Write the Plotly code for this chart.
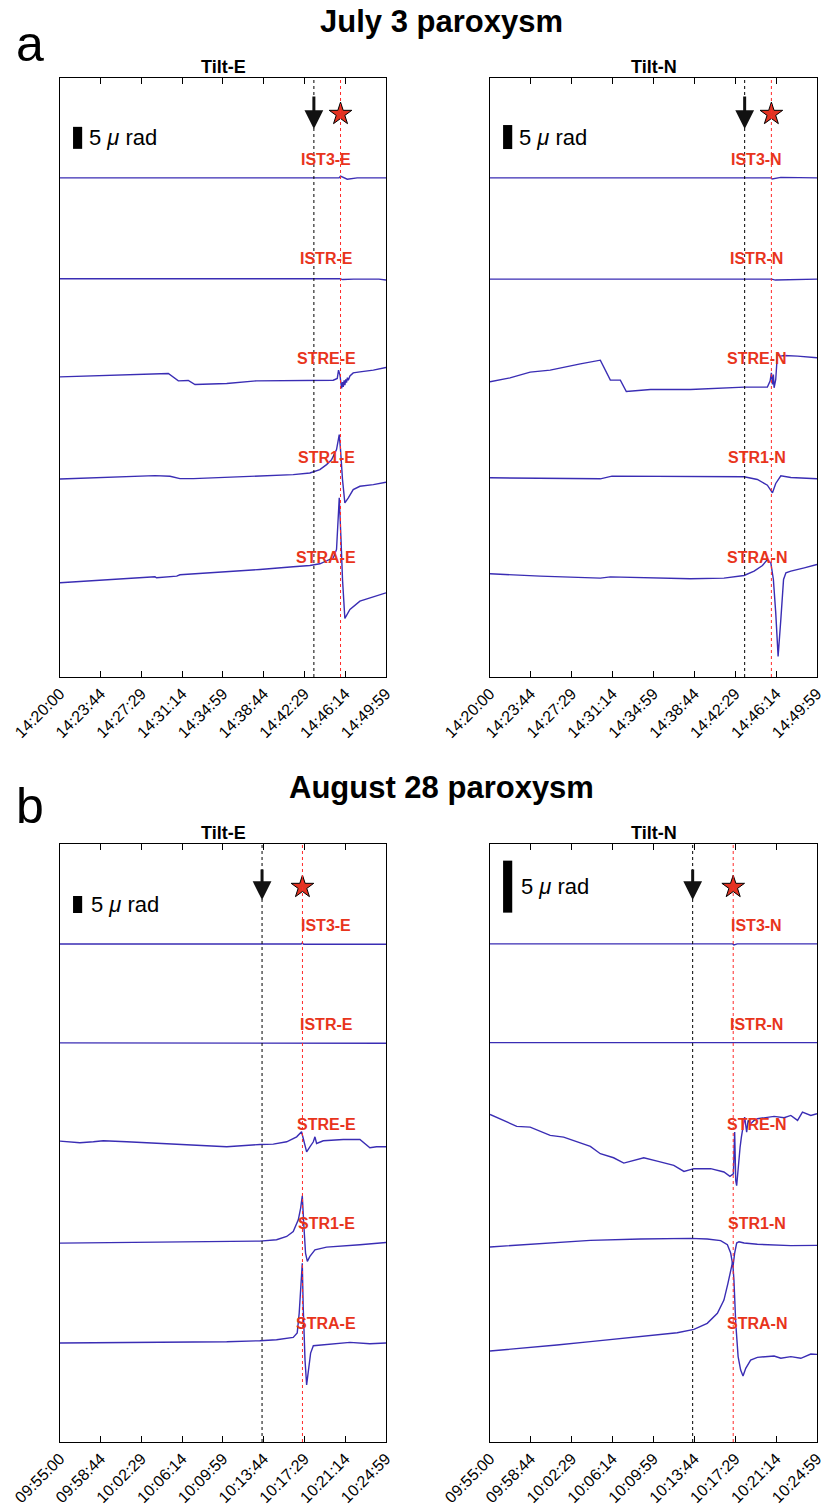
import plotly.graph_objects as go

# ---------------- data (time in seconds from window start, tilt in micro-rad) ----------------
TICK_SEC = [0, 224, 449, 674, 899, 1124, 1349, 1574, 1799]
A_TICKS = ["14:20:00", "14:23:44", "14:27:29", "14:31:14", "14:34:59",
           "14:38:44", "14:42:29", "14:46:14", "14:49:59"]
B_TICKS = ["09:55:00", "09:58:44", "10:02:29", "10:06:14", "10:09:59",
           "10:13:44", "10:17:29", "10:21:14", "10:24:59"]

A_BLACK, A_RED = 1401, 1548
B_BLACK, B_RED = 1115, 1338

STATIONS = ["IST3", "ISTR", "STRE", "STR1", "STRA"]

# July 3, Tilt-E
AE_IST3_T = [0, 1540, 1548, 1585, 1640, 1799]
AE_IST3_V = [0, 0, 0.4, -0.3, 0, 0]
AE_ISTR_T = [0, 1545, 1560, 1620, 1760, 1785, 1799]
AE_ISTR_V = [0, 0, -0.2, -0.1, -0.1, -0.3, -0.3]
AE_STRE_T = [0, 276, 478, 598, 653, 708, 745, 920, 1085, 1287, 1508, 1530, 1537, 1545, 1554, 1559,
             1563, 1568, 1572, 1577, 1581, 1586, 1591, 1600, 1610, 1618, 1655, 1729, 1799]
AE_STRE_V = [0, 0.38, 0.6, 0.76, -0.91, -0.83, -1.74, -1.52, -0.91, -0.76, -0.76, -0.38, 1.52, 0.38, -2.65, -1.2,
             -2.3, -0.8, -1.9, -0.6, -1.3, -0.2, -0.8, 0.2, 0.6, 0.9, 1.14, 1.52, 2.12]
AE_STR1_T = [0, 497, 524, 607, 662, 736, 1103, 1287, 1379, 1434, 1471, 1499, 1526, 1541, 1548, 1559,
             1572, 1591, 1618, 1655, 1729, 1799]
AE_STR1_V = [0, 0.61, 0.76, 0.61, 0.08, 0.08, 0.61, 0.98, 1.36, 2.12, 3.26, 4.39, 6.67, 10.08, 6.67, -0.15,
             -5.45, -4.32, -2.42, -1.67, -1.29, -0.76]
AE_STRA_T = [0, 497, 524, 533, 644, 662, 920, 1103, 1287, 1379, 1434, 1471, 1508, 1526, 1541, 1550,
             1559, 1572, 1600, 1655, 1729, 1799]
AE_STRA_V = [0, 1.14, 1.36, 1.14, 1.52, 1.82, 2.5, 3.03, 3.64, 3.94, 4.32, 4.92, 5.68, 7.58, 19.3, 10.6,
             0.76, -8.1, -6.06, -4.17, -3.18, -2.27]

# July 3, Tilt-N
AN_IST3_T = [0, 1545, 1552, 1600, 1700, 1799]
AN_IST3_V = [0, 0, -0.25, 0.1, 0.05, 0]
AN_ISTR_T = [0, 1550, 1570, 1620, 1680, 1799]
AN_ISTR_V = [0, 0, -0.2, -0.15, 0, 0]
AN_STRE_T = [0, 110, 221, 331, 497, 607, 662, 717, 750, 883, 1103, 1287, 1398, 1526, 1541, 1548, 1554,
             1559, 1563, 1572, 1581, 1600, 1618, 1692, 1799]
AN_STRE_V = [0, 0.83, 2.01, 2.43, 3.75, 4.51, 0.35, 0.35, -2.01, -1.6, -1.6, -1.25, -1.11, -1.11, 0.14, 1.88,
             -0.56, 1.53, -1.25, 0.49, 5.69, 5.35, 5.49, 5.35, 5.0]
AN_STR1_T = [0, 607, 671, 920, 1287, 1398, 1471, 1526, 1554, 1572, 1600, 1655, 1799]
AN_STR1_V = [0, -0.21, 0.35, 0.35, 0.35, 0.21, -0.35, -1.53, -3.13, -1.18, 0.42, 0.07, -0.21]
AN_STRA_T = [0, 276, 607, 662, 1103, 1287, 1398, 1453, 1499, 1526, 1545, 1559, 1572, 1585, 1600, 1615,
             1628, 1655, 1729, 1799]
AN_STRA_V = [0, -0.49, -0.9, -0.63, -1.04, -0.9, -0.35, 0.56, 1.74, 2.99, 2.29, -1.18, -8.13, -17.2, -9.51,
             -1.18, 0.21, 0.56, 1.25, 1.94]

# August 28, Tilt-E
BE_IST3_T = [0, 1330, 1337, 1345, 1360, 1799]
BE_IST3_V = [0, 0, 0.3, -0.1, -0.1, -0.1]
BE_ISTR_T = [0, 1340, 1380, 1450, 1799]
BE_ISTR_V = [0, 0, -0.2, -0.1, -0.1]
BE_STRE_T = [0, 110, 184, 239, 368, 552, 736, 920, 1103, 1177, 1251, 1306, 1333, 1346, 1361, 1379, 1398,
             1407, 1416, 1453, 1563, 1655, 1683, 1710, 1747, 1799]
BE_STRE_V = [0, -0.49, -0.2, 0.1, -0.2, -0.69, -1.27, -1.67, -0.98, -0.88, -0.2, 1.27, 2.75, 0.29, -3.14,
             -1.67, -0.2, 1.27, -0.69, 0.1, 0.49, 0.49, -0.69, -1.96, -1.67, -1.67]
BE_STR1_T = [0, 552, 920, 1103, 1195, 1251, 1287, 1315, 1328, 1337, 1346, 1355, 1365, 1379, 1407, 1471,
             1655, 1799]
BE_STR1_V = [0, 0.29, 0.39, 0.59, 0.98, 1.96, 3.43, 6.86, 10.3, 13.9, 4.9, -2.94, -5.39, -3.92, -1.96,
             -1.18, -0.49, 0.2]
BE_STRA_T = [0, 552, 920, 1103, 1195, 1287, 1309, 1320, 1330, 1337, 1342, 1352, 1361, 1370, 1383, 1398,
             1471, 1600, 1710, 1799]
BE_STRA_V = [0, 0.2, 0.39, 0.69, 0.98, 1.67, 2.94, 8.82, 18.6, 23.5, 10.8, -4.9, -12.3, -8.82, -2.94,
             -0.78, -0.49, 0.2, -0.2, 0]

# August 28, Tilt-N
BN_IST3_T = [0, 1335, 1342, 1360, 1799]
BN_IST3_V = [0, 0, -0.1, 0, 0]
BN_ISTR_T = [0, 1338, 1345, 1360, 1799]
BN_ISTR_V = [0, 0, -0.05, 0, 0]
BN_STRE_T = [0, 74, 147, 221, 331, 405, 478, 552, 607, 680, 736, 791, 846, 920, 1011, 1067, 1122, 1214,
             1287, 1320, 1339, 1346, 1352, 1357, 1365, 1376, 1383, 1392, 1401, 1412, 1420, 1434, 1453,
             1471, 1563, 1618, 1655, 1692, 1719, 1765, 1799]
BN_STRE_V = [0, -0.58, -1.15, -1.22, -2.02, -2.18, -2.66, -3.08, -3.78, -4.17, -4.68, -4.42, -4.17, -4.49,
             -4.9, -5.48, -5.22, -5.22, -5.54, -5.96, -5.71, -1.7, -6.38, -6.86, -5.1, -3.14, -2.18, -1.22,
             -0.26, -1.7, -0.58, -0.9, -0.58, -0.42, -0.19, -0.32, -0.1, -0.58, 0.22, -0.1, 0.06]
BN_STR1_T = [0, 276, 552, 828, 1103, 1195, 1269, 1306, 1324, 1337, 1346, 1357, 1370, 1398, 1471, 1655, 1799]
BN_STR1_V = [0, 0.32, 0.64, 0.77, 0.83, 0.77, 0.61, 0.22, -0.58, -1.86, -0.58, 0.38, 0.51, 0.38, 0.26,
             0.13, 0.16]
BN_STRA_T = [0, 184, 368, 552, 736, 920, 1030, 1122, 1195, 1251, 1287, 1309, 1324, 1335, 1342, 1352, 1365,
             1379, 1392, 1407, 1434, 1471, 1563, 1600, 1655, 1710, 1765, 1799]
BN_STRA_V = [0, 0.26, 0.58, 0.9, 1.22, 1.54, 1.76, 2.08, 2.66, 3.62, 4.9, 6.5, 7.79, 8.59, 6.83, 2.66,
             -0.54, -1.83, -2.4, -1.67, -0.87, -0.61, -0.48, -0.7, -0.54, -0.7, -0.29, -0.32]

# ---------------- layout / styling ----------------
W, H = 830, 1509
LINE = "#3a2db4"
RED = "#e8341c"
FONT = "Liberation Sans, Arial, Helvetica, sans-serif"

panels = [
    dict(comp="E", series=[(AE_IST3_T, AE_IST3_V), (AE_ISTR_T, AE_ISTR_V), (AE_STRE_T, AE_STRE_V),
                           (AE_STR1_T, AE_STR1_V), (AE_STRA_T, AE_STRA_V)],
         offsets=[113.4, 90.5, 68.2, 45.0, 21.4], yr=136.1, bar=120.0,
         px=(60, 386), py=(78, 677), ticks=A_TICKS, black=A_BLACK, red=A_RED,
         arrow=(17, 51), star=36, txtx=0.083),
    dict(comp="N", series=[(AN_IST3_T, AN_IST3_V), (AN_ISTR_T, AN_ISTR_V), (AN_STRE_T, AN_STRE_V),
                           (AN_STR1_T, AN_STR1_V), (AN_STRA_T, AN_STRA_V)],
         offsets=[104.0, 82.9, 61.5, 41.5, 21.5], yr=124.8, bar=110.0,
         px=(490, 817), py=(78, 677), ticks=A_TICKS, black=A_BLACK, red=A_RED,
         arrow=(17, 51), star=36, txtx=0.083),
    dict(comp="E", series=[(BE_IST3_T, BE_IST3_V), (BE_ISTR_T, BE_ISTR_V), (BE_STRE_T, BE_STRE_V),
                           (BE_STR1_T, BE_STR1_V), (BE_STRA_T, BE_STRA_V)],
         offsets=[146.5, 117.4, 88.5, 58.5, 29.1], yr=175.9, bar=155.6,
         px=(60, 386), py=(844, 1442), ticks=B_TICKS, black=B_BLACK, red=B_RED,
         arrow=(24, 56), star=43, txtx=0.089),
    dict(comp="N", series=[(BN_IST3_T, BN_IST3_V), (BN_ISTR_T, BN_ISTR_V), (BN_STRE_T, BN_STRE_V),
                           (BN_STR1_T, BN_STR1_V), (BN_STRA_T, BN_STRA_V)],
         offsets=[47.9, 38.4, 31.5, 18.75, 8.75], yr=57.5, bar=50.9,
         px=(490, 817), py=(844, 1442), ticks=B_TICKS, black=B_BLACK, red=B_RED,
         arrow=(24, 56), star=43, txtx=0.089),
]

fig = go.Figure()
shapes, annotations = [], []
layout_axes = {}

for i, p in enumerate(panels, start=1):
    xa = "x" if i == 1 else f"x{i}"
    ya = "y" if i == 1 else f"y{i}"
    xkey = "xaxis" if i == 1 else f"xaxis{i}"
    ykey = "yaxis" if i == 1 else f"yaxis{i}"
    ph = p["py"][1] - p["py"][0]

    for (t, v), off in zip(p["series"], p["offsets"]):
        fig.add_trace(go.Scatter(x=t, y=[off + val for val in v], mode="lines",
                                 line=dict(color=LINE, width=1.4), xaxis=xa, yaxis=ya,
                                 hoverinfo="skip", showlegend=False))

    # star marker
    fig.add_trace(go.Scatter(x=[p["red"]], y=[p["yr"] * (1 - p["star"] / ph)], mode="markers",
                             marker=dict(symbol="star", size=17, color="#e23322",
                                         line=dict(color="black", width=1)),
                             xaxis=xa, yaxis=ya, hoverinfo="skip", showlegend=False))

    layout_axes[xkey] = dict(domain=[p["px"][0] / W, p["px"][1] / W], anchor=ya, range=[0, 1799],
                             tickmode="array", tickvals=TICK_SEC, ticktext=p["ticks"], tickangle=-45,
                             ticks="inside", ticklen=6, tickcolor="black", tickwidth=1,
                             showline=True, linecolor="black", linewidth=1, mirror="ticks",
                             showgrid=False, zeroline=False, automargin=False,
                             tickfont=dict(family=FONT, size=16, color="black"))
    layout_axes[ykey] = dict(domain=[1 - p["py"][1] / H, 1 - p["py"][0] / H], anchor=xa,
                             range=[0, p["yr"]], showticklabels=False, ticks="",
                             showline=True, linecolor="black", linewidth=1, mirror=True,
                             showgrid=False, zeroline=False, automargin=False)

    # event lines
    shapes.append(dict(type="line", xref=xa, yref=f"{ya} domain", x0=p["black"], x1=p["black"],
                       y0=0, y1=1, line=dict(color="black", width=1, dash="dot")))
    shapes.append(dict(type="line", xref=xa, yref=f"{ya} domain", x0=p["red"], x1=p["red"],
                       y0=0, y1=1, line=dict(color="#ff2a2a", width=1, dash="dot")))
    # 5 micro-rad scale bar
    shapes.append(dict(type="rect", xref=f"{xa} domain", yref=ya, x0=0.04, x1=0.068,
                       y0=p["bar"], y1=p["bar"] + 5, fillcolor="black", line=dict(width=0)))
    annotations.append(dict(xref=f"{xa} domain", yref=ya, x=p["txtx"], y=p["bar"] + 2.5,
                            text="5 <i>μ</i> rad", showarrow=False, xanchor="left", yanchor="middle",
                            font=dict(family=FONT, size=22, color="black")))
    # arrow
    annotations.append(dict(xref=xa, yref=f"{ya} domain", x=p["black"], y=1 - p["arrow"][1] / ph,
                            ax=0, ay=-(p["arrow"][1] - p["arrow"][0]), text="", showarrow=True,
                            arrowhead=2, arrowsize=1.25, arrowwidth=3, arrowcolor="#111111"))
    # station labels
    for k, st in enumerate(STATIONS):
        annotations.append(dict(xref=xa, yref=f"{ya} domain", x=1468, y=1 - (81 + 99.5 * k) / ph,
                                text=f"<b>{st}-{p['comp']}</b>", showarrow=False,
                                xanchor="center", yanchor="middle",
                                font=dict(family=FONT, size=16, color=RED)))
    # panel title
    annotations.append(dict(xref="paper", yref="paper", x=(p["px"][0] + p["px"][1]) / 2 / W,
                            y=1 - (p["py"][0] - 11) / H, text=f"<b>Tilt-{p['comp']}</b>",
                            showarrow=False, xanchor="center", yanchor="middle",
                            font=dict(family=FONT, size=18, color="black")))

# figure titles and letters
annotations += [
    dict(xref="paper", yref="paper", x=441 / W, y=1 - 22 / H, text="<b>July 3 paroxysm</b>",
         showarrow=False, xanchor="center", yanchor="middle", font=dict(family=FONT, size=31, color="black")),
    dict(xref="paper", yref="paper", x=441 / W, y=1 - 787 / H, text="<b>August 28 paroxysm</b>",
         showarrow=False, xanchor="center", yanchor="middle", font=dict(family=FONT, size=31, color="black")),
    dict(xref="paper", yref="paper", x=30 / W, y=1 - 44 / H, text="a",
         showarrow=False, xanchor="center", yanchor="middle", font=dict(family=FONT, size=50, color="black")),
    dict(xref="paper", yref="paper", x=30 / W, y=1 - 806 / H, text="b",
         showarrow=False, xanchor="center", yanchor="middle", font=dict(family=FONT, size=50, color="black")),
]

fig.update_layout(width=W, height=H, margin=dict(l=0, r=0, t=0, b=0, autoexpand=False),
                  paper_bgcolor="white", plot_bgcolor="white", showlegend=False,
                  shapes=shapes, annotations=annotations, **layout_axes)

fig.write_html("out.html", config={"displayModeBar": False},
               post_script="document.body.style.margin='0';")
